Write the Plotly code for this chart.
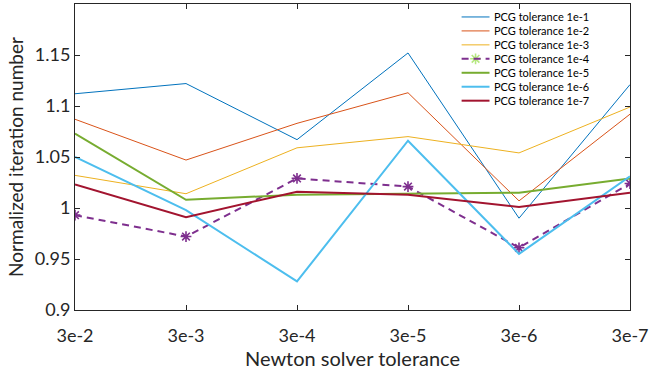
import plotly.graph_objects as go

# ---- data ----
x_labels = ["3e-2", "3e-3", "3e-4", "3e-5", "3e-6", "3e-7"]
series_names = ["PCG tolerance 1e-1", "PCG tolerance 1e-2", "PCG tolerance 1e-3",
                "PCG tolerance 1e-4", "PCG tolerance 1e-5", "PCG tolerance 1e-6",
                "PCG tolerance 1e-7"]
pcg_1e1 = [1.112, 1.122, 1.067, 1.152, 0.990, 1.121]
pcg_1e2 = [1.087, 1.047, 1.083, 1.113, 1.007, 1.092]
pcg_1e3 = [1.032, 1.014, 1.059, 1.070, 1.054, 1.099]
pcg_1e4 = [0.993, 0.972, 1.029, 1.021, 0.961, 1.024]
pcg_1e5 = [1.073, 1.008, 1.013, 1.014, 1.015, 1.029]
pcg_1e6 = [1.050, 0.998, 0.928, 1.066, 0.955, 1.031]
pcg_1e7 = [1.023, 0.991, 1.016, 1.013, 1.001, 1.015]
y_tickvals = [0.9, 0.95, 1.0, 1.05, 1.1, 1.15]
y_ticktext = ["0.9", "0.95", "1", "1.05", "1.1", "1.15"]

series = [pcg_1e1, pcg_1e2, pcg_1e3, pcg_1e4, pcg_1e5, pcg_1e6, pcg_1e7]
colors = ["#0072BD", "#D95319", "#EDB120", "#7E2F8E", "#77AC30", "#4DBEEE", "#A2142F"]
widths = [1, 1, 1, 2, 2, 2, 2]

W, H = 652, 370
L, R, T, B = 75, 20, 3, 60
FONT = "Lato"
AX = "#262626"

fig = go.Figure()
xs = list(range(len(x_labels)))
for i, (ys, name) in enumerate(zip(series, series_names)):
    is_dash = (i == 3)
    fig.add_trace(go.Scatter(
        x=xs, y=ys, name=name, mode="lines+markers" if is_dash else "lines",
        line=dict(color=colors[i], width=widths[i], dash="7px,5px" if is_dash else "solid"),
        marker=dict(symbol="asterisk-open", size=9, line=dict(color=colors[i], width=1.6)) if is_dash else None,
        showlegend=False,
    ))

# ---- custom legend (pixel layout converted to paper coords) ----
pw, ph = W - L - R, H - T - B
def px2paper(px, py):
    return (px - L) / pw, (H - B - py) / ph

leg_x0, leg_x1, leg_text_x = 463, 491, 494
leg_y0, leg_dy = 16, 14
mk_x, mk_y = [], []
for i, name in enumerate(series_names):
    py = leg_y0 + i * leg_dy
    xa, ya = px2paper(leg_x0, py)
    xb, _ = px2paper(leg_x1, py)
    fig.add_shape(type="line", xref="paper", yref="paper", x0=xa, x1=xb, y0=ya, y1=ya,
                  line=dict(color=colors[i], width=widths[i],
                            dash="7px,5px" if i == 3 else "solid"))
    xt, yt = px2paper(leg_text_x, py)
    fig.add_annotation(xref="paper", yref="paper", x=xt, y=yt, text=name, showarrow=False,
                       xanchor="left", yanchor="middle", font=dict(family=FONT, size=11, color="#000"))
    if i == 3:
        xm, ym = px2paper((leg_x0 + leg_x1) / 2, py)
        mk_x.append(xm); mk_y.append(ym)

fig.add_trace(go.Scatter(x=mk_x, y=mk_y, xaxis="x2", yaxis="y2", mode="markers",
                         marker=dict(symbol="asterisk-open", size=9,
                                     line=dict(color=colors[3], width=1.6)),
                         showlegend=False, hoverinfo="skip"))

fig.update_layout(
    width=W, height=H,
    margin=dict(l=L, r=R, t=T, b=B),
    paper_bgcolor="white", plot_bgcolor="white",
    font=dict(family=FONT, color=AX),
    showlegend=False,
    xaxis=dict(
        range=[0, len(x_labels) - 1], tickvals=xs, ticktext=x_labels,
        showgrid=False, zeroline=False, showline=True, linecolor=AX, linewidth=1,
        mirror="ticks", ticks="inside", ticklen=5, tickcolor=AX,
        ticklabelstandoff=9,
        tickfont=dict(size=18, family=FONT, color=AX),
        title=dict(text="Newton solver tolerance", font=dict(size=20, family=FONT, color=AX), standoff=0),
    ),
    yaxis=dict(
        range=[0.9, 1.2], tickvals=y_tickvals, ticktext=y_ticktext,
        showgrid=False, zeroline=False, showline=True, linecolor=AX, linewidth=1,
        mirror="ticks", ticks="inside", ticklen=5, tickcolor=AX,
        tickfont=dict(size=18, family=FONT, color=AX),
        title=dict(text="Normalized iteration number", font=dict(size=19, family=FONT, color=AX), standoff=6),
    ),
    xaxis2=dict(range=[0, 1], overlaying="x", visible=False),
    yaxis2=dict(range=[0, 1], overlaying="y", visible=False),
)

fig.write_html("out.html")
